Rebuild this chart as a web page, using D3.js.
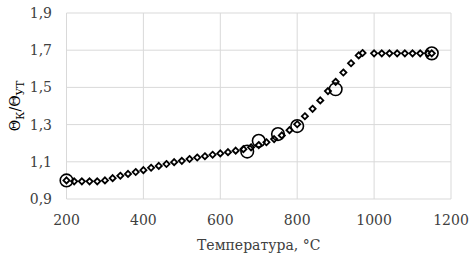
<!DOCTYPE html>
<html><head><meta charset="utf-8">
<script src="https://cdn.jsdelivr.net/npm/d3@7"></script>
<style>body{margin:0;background:#fff;}svg{display:block;}</style>
</head><body>
<script>
const calcT = [200,220,240,260,280,300,320,340,360,380,400,420,440,460,480,500,520,540,560,580,600,620,640,660,680,700,720,740,760,780,800,820,840,860,880,900,920,940,960,970,1000,1020,1040,1060,1080,1100,1120,1140,1150];
const calcV = [1.0,0.995,0.995,0.995,0.995,1.0,1.012,1.025,1.035,1.045,1.055,1.068,1.078,1.088,1.098,1.105,1.115,1.123,1.13,1.138,1.145,1.152,1.16,1.168,1.178,1.19,1.205,1.222,1.242,1.27,1.302,1.345,1.385,1.43,1.48,1.53,1.58,1.63,1.672,1.685,1.683,1.683,1.683,1.683,1.683,1.683,1.683,1.683,1.683];
const expT = [200,670,700,750,800,900,1150];
const expV = [1.0,1.155,1.213,1.249,1.292,1.49,1.683];
const xTicks = [200,400,600,800,1000,1200];
const yTicks = [0.9,1.1,1.3,1.5,1.7,1.9];

const W=473,H=259;
const svg=d3.select("body").append("svg").attr("width",W).attr("height",H);
const x=d3.scaleLinear().domain([200,1200]).range([66.5,451]);
const y=d3.scaleLinear().domain([0.9,1.9]).range([199,13]);
const F="DejaVu Serif";

const g=svg.append("g");
g.selectAll(".vg").data(xTicks).join("line")
 .attr("x1",d=>x(d)).attr("x2",d=>x(d)).attr("y1",y(0.9)).attr("y2",y(1.9))
 .attr("stroke","#d9d9d9").attr("stroke-width",1);
g.selectAll(".hg").data(yTicks).join("line")
 .attr("x1",x(200)).attr("x2",x(1200)).attr("y1",d=>y(d)).attr("y2",d=>y(d))
 .attr("stroke","#d9d9d9").attr("stroke-width",1);

const fmt=d=>d3.format(".1f")(d).replace(".",",");
svg.selectAll(".yl").data(yTicks).join("text")
 .attr("x",52).attr("y",d=>y(d)).attr("dy","0.35em").attr("text-anchor","end")
 .style("font-family",F).attr("font-size",14).attr("fill","#404040").text(fmt);
svg.selectAll(".xl").data(xTicks).join("text")
 .attr("x",d=>x(d)).attr("y",225).attr("text-anchor","middle")
 .style("font-family",F).attr("font-size",14).attr("fill","#404040").text(d=>d);

svg.append("text").attr("x",258.7).attr("y",250).attr("text-anchor","middle")
 .style("font-family",F).attr("font-size",14).attr("fill","#404040").text("Температура, °C");

const yl=svg.append("text").attr("transform","translate(20,106) rotate(-90)").attr("text-anchor","middle")
 .style("font-family",F).attr("font-size",14).attr("fill","#000");
yl.append("tspan").text("Θ");
yl.append("tspan").attr("font-size",10.5).attr("dy",4).text("К");
yl.append("tspan").attr("dy",-4).text("/Θ");
yl.append("tspan").attr("font-size",10.5).attr("dy",4).text("УТ");

const data=calcT.map((t,i)=>({t,v:calcV[i]}));
const sym=d3.symbol().type(d3.symbolDiamond2).size(24);
svg.selectAll(".sm").data(data).join("path")
 .attr("d",sym).attr("transform",d=>`translate(${x(d.t)},${y(d.v)})`)
 .attr("fill","#fff").attr("stroke","#000").attr("stroke-width",1.8);

const ex=expT.map((t,i)=>({t,v:expV[i]}));
svg.selectAll(".bc").data(ex).join("circle")
 .attr("cx",d=>x(d.t)).attr("cy",d=>y(d.v)).attr("r",6.3)
 .attr("fill","none").attr("stroke","#000").attr("stroke-width",1.6);
</script>
</body></html>
